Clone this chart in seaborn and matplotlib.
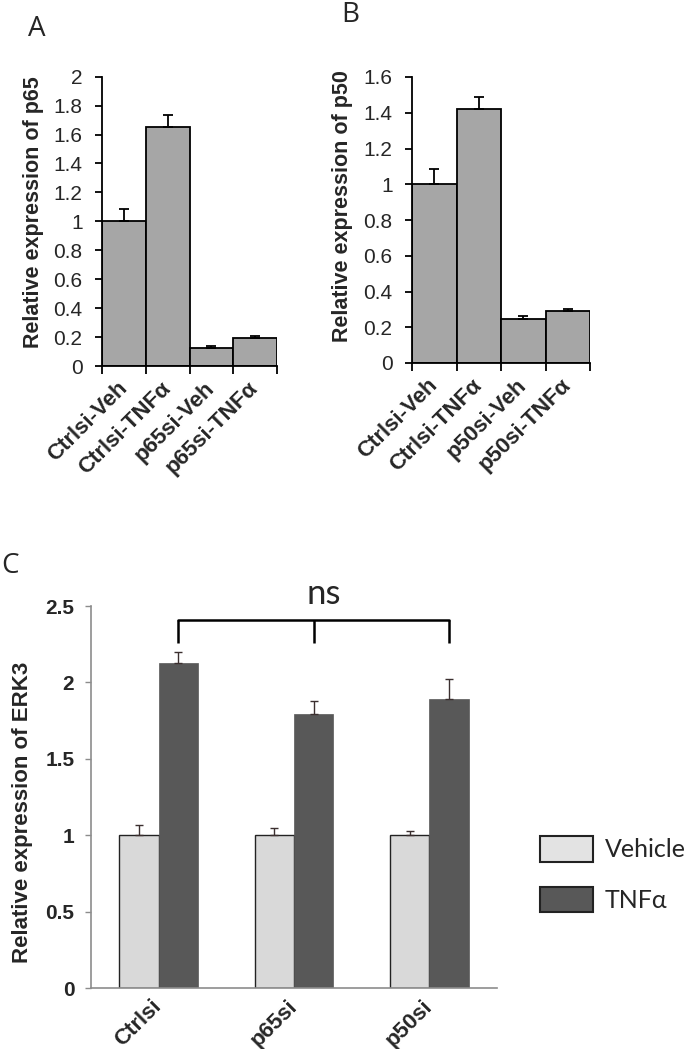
import matplotlib
matplotlib.use("Agg")
import matplotlib.pyplot as plt
import matplotlib.transforms as mtrans
from matplotlib.patches import Patch
import numpy as np
import pandas as pd
import seaborn as sns

sns.set_theme(style="white")
plt.rcParams['font.family'] = ['Liberation Sans', 'DejaVu Sans']

# ---- data ----
a_labels = ["Ctrlsi-Veh", "Ctrlsi-TNFα", "p65si-Veh", "p65si-TNFα"]
a_means = [1.0, 1.654, 0.127, 0.196]
a_err = [0.082, 0.081, 0.014, 0.009]

b_labels = ["Ctrlsi-Veh", "Ctrlsi-TNFα", "p50si-Veh", "p50si-TNFα"]
b_means = [1.0, 1.423, 0.244, 0.289]
b_err = [0.085, 0.063, 0.019, 0.011]

c_groups = ["Ctrlsi", "p65si", "p50si"]
c_treat = ["Vehicle", "TNFα"]
c_vehicle = [1.0, 1.0, 1.0]
c_vehicle_err = [0.07, 0.05, 0.03]
c_tnf = [2.127, 1.79, 1.89]
c_tnf_err = [0.073, 0.09, 0.13]

W, H = 687, 1049
fig = plt.figure(figsize=(W / 100, H / 100), dpi=100)


def rect(x0, y0, x1, y1):
    # pixel box -> figure fraction
    return [x0 / W, 1 - y1 / H, (x1 - x0) / W, (y1 - y0) / H]


soft = ['Lato', 'Liberation Sans', 'DejaVu Sans']


def simple_panel(ax, labels, means, errs, ymax, ylabel):
    df = pd.DataFrame({"cond": labels, "val": means})
    sns.barplot(data=df, x="cond", y="val", color="#a6a6a6", width=1.0,
                edgecolor="black", linewidth=1.3, saturation=1, errorbar=None, ax=ax)
    ax.errorbar(np.arange(len(means)), means, yerr=[np.zeros(len(errs)), errs],
                fmt="none", ecolor="black", elinewidth=1.3, capsize=3.5, capthick=1.3)
    ax.set_xlim(-0.5, len(means) - 0.5)
    ax.set_ylim(0, ymax)
    ticks = np.round(np.arange(0, ymax + 0.01, 0.2), 1)
    ax.set_yticks(ticks)
    ax.set_yticklabels([f"{t:g}" for t in ticks], fontsize=15)
    ax.set_xticks(np.arange(len(means)))
    ax.set_xticklabels(labels, rotation=45, ha="right", va="center",
                       rotation_mode="anchor", fontsize=16, fontweight="bold")
    ax.set_xticks(np.arange(-0.5, len(means)), minor=True)
    ax.tick_params(axis="x", which="major", length=0, pad=14)
    ax.tick_params(axis="x", which="minor", length=6, width=1.3, color="black", bottom=True)
    ax.tick_params(axis="y", length=5, width=1.3, color="black", left=True, pad=9)
    for s in ["top", "right"]:
        ax.spines[s].set_visible(False)
    for s in ["left", "bottom"]:
        ax.spines[s].set_color("black")
        ax.spines[s].set_linewidth(1.3)
    ax.set_xlabel("")
    ax.set_ylabel(ylabel, fontsize=15.5, fontweight="bold")


# ---- panel A ----
axA = fig.add_axes(rect(102, 76.7, 277, 366))
simple_panel(axA, a_labels, a_means, a_err, 2.0, "Relative expression of p65")
axA.yaxis.set_label_coords(44 / W, 1 - 212 / H, transform=fig.transFigure)

# ---- panel B ----
axB = fig.add_axes(rect(412, 77, 590, 363))
simple_panel(axB, b_labels, b_means, b_err, 1.6, "Relative expression of p50")
axB.yaxis.set_label_coords(353 / W, 1 - 206 / H, transform=fig.transFigure)

# ---- panel C ----
axC = fig.add_axes(rect(91, 606, 497, 988))
dfc = pd.DataFrame({
    "group": c_groups * 2,
    "treat": [c_treat[0]] * 3 + [c_treat[1]] * 3,
    "val": c_vehicle + c_tnf,
})
sns.barplot(data=dfc, x="group", y="val", hue="treat", hue_order=c_treat,
            palette={"Vehicle": "#d9d9d9", "TNFα": "#585858"}, width=0.58,
            saturation=1, errorbar=None, legend=False, ax=axC)
bars = sorted(axC.patches, key=lambda p: p.get_x())
vals = [v for pair in zip(c_vehicle, c_tnf) for v in pair]
errs = [e for pair in zip(c_vehicle_err, c_tnf_err) for e in pair]
centers = []
for i, p in enumerate(bars):
    if i % 2 == 0:
        p.set_edgecolor("#222222")
        p.set_linewidth(1.0)
    else:
        p.set_edgecolor("#585858")
        p.set_linewidth(0.5)
    centers.append(p.get_x() + p.get_width() / 2)
axC.errorbar(centers, vals, yerr=[np.zeros(len(errs)), errs], fmt="none",
             ecolor="#3b2f2f", elinewidth=1.0, capsize=3, capthick=1.0)
axC.set_xlim(-0.5, 2.5)
axC.set_ylim(0, 2.5)
axC.set_yticks([0, 0.5, 1, 1.5, 2, 2.5])
axC.set_yticklabels(["0", "0.5", "1", "1.5", "2", "2.5"], fontsize=15, fontweight="bold")
axC.set_xticks([0, 1, 2])
axC.set_xticklabels(c_groups, rotation=45, ha="right", va="center",
                    rotation_mode="anchor", fontsize=16, fontweight="bold")
shift = mtrans.ScaledTranslation(14 / 100, 0, fig.dpi_scale_trans)
for t in axC.get_xticklabels():
    t.set_transform(t.get_transform() + shift)
axC.tick_params(axis="x", length=0, pad=11)
axC.tick_params(axis="y", length=4, width=1, color="#8c8c8c", left=True, pad=8)
for s in ["top", "right"]:
    axC.spines[s].set_visible(False)
for s in ["left", "bottom"]:
    axC.spines[s].set_color("#8c8c8c")
    axC.spines[s].set_linewidth(1.2)
axC.set_xlabel("")
axC.set_ylabel("Relative expression of ERK3", fontsize=16, fontweight="bold")
axC.yaxis.set_label_coords(33 / W, 1 - 812 / H, transform=fig.transFigure)

# significance bracket over the TNF bars
tnf_x = centers[1::2]
y_top, y_drop = 2.407, 2.26
axC.plot([tnf_x[0], tnf_x[-1]], [y_top, y_top], color="black", lw=1.8, clip_on=False)
for xx in tnf_x:
    axC.plot([xx, xx], [y_drop, y_top], color="black", lw=1.8, clip_on=False,
             solid_capstyle="butt")
axC.text(1.22, 2.578, "ns", ha="center", va="center", fontsize=25,
         family=soft, clip_on=False)

# legend
handles = [Patch(facecolor="#e3e3e3", edgecolor="#222222", linewidth=1.5, label="Vehicle"),
           Patch(facecolor="#585858", edgecolor="#222222", linewidth=1.5, label="TNFα")]
fig.legend(handles=handles, loc="upper left", bbox_to_anchor=(540 / W, 1 - 836 / H),
           frameon=False, borderpad=0, borderaxespad=0, handlelength=2.1,
           handleheight=1.2, handletextpad=0.5, labelspacing=1.0,
           prop=dict(family=soft, size=18))

# panel letters
letter_font = dict(family=['Open Sans', 'DejaVu Sans'], fontsize=20)
fig.text(37 / W, 1 - 29 / H, "A", ha="center", va="center", **letter_font)
fig.text(350 / W, 1 - 15 / H, "B", ha="center", va="center", **letter_font)
fig.text(10 / W, 1 - 566 / H, "C", ha="center", va="center", **letter_font)

fig.savefig("out.png", dpi=100)
